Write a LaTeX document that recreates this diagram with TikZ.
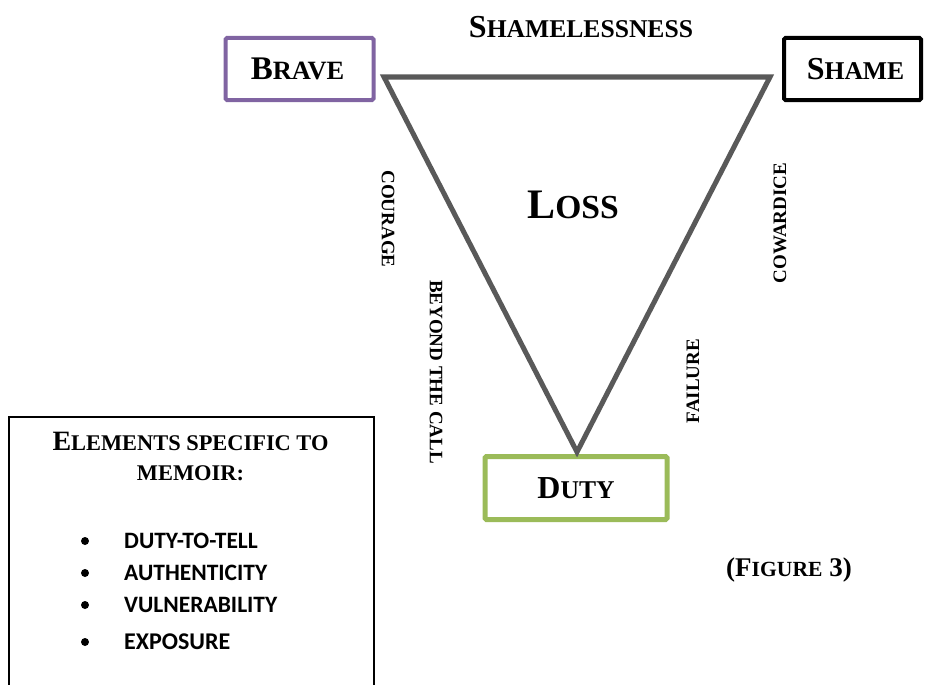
\documentclass[tikz,border=0pt]{standalone}
\usepackage{fontspec}
\setmainfont{Liberation Serif}
\newfontfamily\calibrifont{Carlito}
\usepackage{graphicx}
\usepackage{xcolor}
\usetikzlibrary{positioning}

\definecolor{bravepurple}{HTML}{8064A2}
\definecolor{dutygreen}{HTML}{9BBB59}
\definecolor{triangray}{HTML}{595959}

% first letter full size, rest as fake small caps
\newcommand{\fsc}[2]{#1\scalebox{0.8}{#2}}

\begin{document}
\begin{tikzpicture}[
    x=1pt, y=-1pt,
    lbl/.style    = {font=\fontsize{32}{38}\selectfont\bfseries, inner sep=0pt},
    rbox/.style   = {draw, rounded corners=1.5pt, line width=4pt,
                     minimum width=148pt, minimum height=62pt, inner sep=0pt},
    side/.style   = {font=\fontsize{19}{22}\selectfont\bfseries, inner sep=0pt},
    item/.style   = {font=\calibrifont\fontsize{23.5}{26}\selectfont\bfseries,
                     inner sep=0pt, anchor=west},
    dot/.style    = {circle, fill=black, inner sep=0pt, minimum size=8pt}
]
\useasboundingbox (0,0) rectangle (926,685);

% ---------------- corner boxes ----------------
\node[rbox, draw=bravepurple] (brave) at (299.5,69) {};
\node[lbl, font=\fontsize{33}{38}\selectfont\bfseries] at ([xshift=-2pt]brave.center) {\fsc{B}{RAVE}};
\node[rbox, draw=black, minimum width=137pt] (shame) at (852.5,69) {};
\node[lbl] at ([xshift=3pt]shame.center) {\fsc{S}{HAME}};
\node[rbox, draw=dutygreen, line width=5pt, minimum width=182pt,
      minimum height=63pt] (duty) at (576,488) {};
\node[lbl] at (duty.center) {\fsc{D}{UTY}};

% ---------------- triangle ----------------
\coordinate (tl) at (384,77);
\coordinate (tr) at (770,77);
\coordinate (bt) at (577,452);
\draw[triangray, line width=5pt, line join=miter] (tl) -- (tr) -- (bt) -- cycle;

% ---------------- labels ----------------
\node[lbl] (shl)  at (581,27)  {\fsc{S}{HAMELESSNESS}};
\node[lbl, font=\fontsize{42}{48}\selectfont\bfseries] (loss) at (573,205) {\fsc{L}{OSS}};
\node[side, rotate=-90] (cour) at (388,219) {COURAGE};
\node[side, rotate=-90] (bey)  at (436,372) {BEYOND THE CALL};
\node[side, rotate=90]  (cow)  at (780,223) {COWARDICE};
\node[side, rotate=90]  (fail) at (693,381) {FAILURE};
\node[lbl, font=\fontsize{27}{32}\selectfont\bfseries] (fig) at (789,570)
     {(\fsc{F}{IGURE} 3)};

% ---------------- memoir box ----------------
\node[draw, line width=2pt, minimum width=365pt, minimum height=300pt,
      anchor=north west, inner sep=0pt] (memo) at (8,416) {};
\node[font=\fontsize{28}{30}\selectfont\bfseries, align=center, inner sep=0pt,
      anchor=north] (head) at (190.5,432)
     {\fsc{E}{LEMENTS SPECIFIC TO}\\\scalebox{0.8}{MEMOIR:}};

\node[dot] (d1) at (85,541) {};
\node[dot] (d2) at (85,573) {};
\node[dot] (d3) at (85,605) {};
\node[dot] (d4) at (85,642) {};
\node[item] (i1) at (124,541) {DUTY-TO-TELL};
\node[item] (i2) at (124,573) {AUTHENTICITY};
\node[item] (i3) at (124,605) {VULNERABILITY};
\node[item, font=\calibrifont\fontsize{24}{27}\selectfont\bfseries] (i4) at (124,642) {EXPOSURE};

\end{tikzpicture}
\end{document}
